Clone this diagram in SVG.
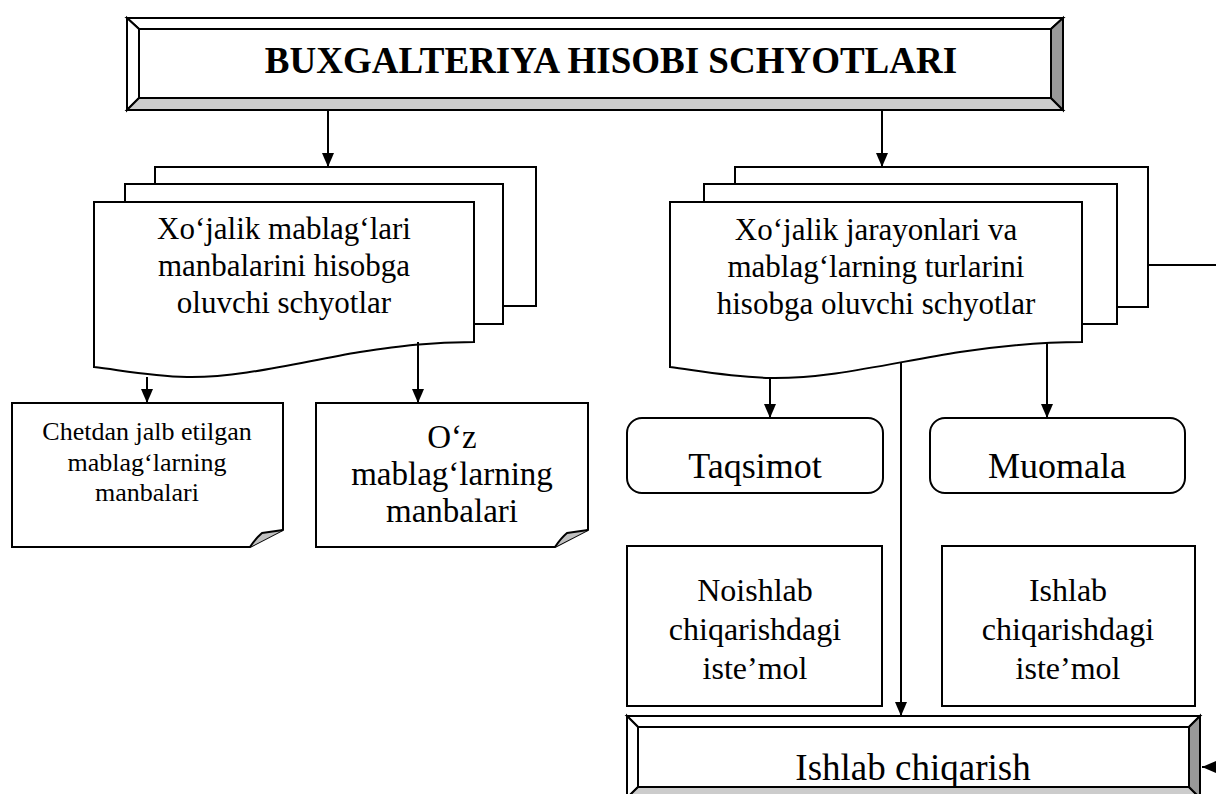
<svg xmlns="http://www.w3.org/2000/svg" width="1216" height="794" viewBox="0 0 1216 794">
<style>
  .ln{fill:none;stroke:#000;stroke-width:2}
  .box{fill:#fff;stroke:#000;stroke-width:2}
  .bv{stroke:#000;stroke-width:2;stroke-linejoin:miter}
  .t{font-family:"Liberation Serif","Times New Roman",serif;fill:#000;text-anchor:middle}
  .fold{fill:#c0c0c0;stroke:#000;stroke-width:2;stroke-linejoin:round}
</style>
<defs>
  <marker id="ahb" viewBox="0 0 14 12" refX="14" refY="6" markerWidth="14" markerHeight="12" markerUnits="userSpaceOnUse" orient="auto">
    <path d="M0,0 L14,6 L0,12 Z" fill="#000"/>
  </marker>
</defs>

<g id="title">
  <rect x="127" y="18" width="936" height="92" fill="#fff" stroke="#000" stroke-width="2"/>
  <polygon class="bv" points="127,18 1063,18 1051,29 139,29" fill="#fff"/>
  <polygon class="bv" points="127,18 139,29 139,98 127,110" fill="#fff"/>
  <polygon class="bv" points="127,110 139,98 1051,98 1063,110" fill="#cccccc"/>
  <polygon class="bv" points="1063,18 1051,29 1051,98 1063,110" fill="#999999"/>
  <text class="t" x="611" y="73" font-size="37" font-weight="bold">BUXGALTERIYA HISOBI SCHYOTLARI</text>
</g>

<g id="left-stack">
  <rect class="box" x="155" y="167" width="381" height="139"/>
  <rect class="box" x="125" y="184" width="378" height="140"/>
  <path class="box" d="M94,202 H474 V342 C430,342 400,346 360,352 C300,362 240,378 187,377 C150,376 120,370 94,367 Z"/>
  <text class="t" font-size="31"><tspan x="284" y="239">Xo‘jalik mablag‘lari</tspan><tspan x="284" y="276">manbalarini hisobga</tspan><tspan x="284" y="313">oluvchi schyotlar</tspan></text>
</g>

<g id="right-stack">
  <rect class="box" x="735" y="167" width="413" height="140"/>
  <rect class="box" x="704" y="184" width="413" height="140"/>
  <path class="box" d="M670,202 H1082 V342 C1035,342 1000,346 960,352 C895,362 830,379 770,378 C730,377 700,371 670,367 Z"/>
  <text class="t" font-size="31"><tspan x="876" y="240">Xo‘jalik jarayonlari va</tspan><tspan x="876" y="277">mablag‘larning turlarini</tspan><tspan x="876" y="314">hisobga oluvchi schyotlar</tspan></text>
</g>

<g id="note-chetdan">
  <path class="box" d="M12,403 H283 V530 L250,547 H12 Z"/>
  <path class="fold" d="M250,547 Q256,538 262,533 L283,530"/>
  <text class="t" font-size="26"><tspan x="147" y="440">Chetdan jalb etilgan</tspan><tspan x="147" y="471">mablag‘larning</tspan><tspan x="147" y="501">manbalari</tspan></text>
</g>

<g id="note-oz">
  <path class="box" d="M316,403 H588 V530 L555,547 H316 Z"/>
  <path class="fold" d="M555,547 Q561,538 567,533 L588,530"/>
  <text class="t" font-size="33"><tspan x="452" y="448">O‘z</tspan><tspan x="452" y="485">mablag‘larning</tspan><tspan x="452" y="522">manbalari</tspan></text>
</g>

<g id="taqsimot">
  <rect class="box" x="627" y="418" width="256" height="75" rx="15"/>
  <text class="t" x="755" y="478" font-size="36">Taqsimot</text>
</g>

<g id="muomala">
  <rect class="box" x="930" y="418" width="255" height="75" rx="15"/>
  <text class="t" x="1057" y="478" font-size="36">Muomala</text>
</g>

<g id="noishlab">
  <rect class="box" x="627" y="546" width="255" height="160"/>
  <text class="t" font-size="32"><tspan x="755" y="601">Noishlab</tspan><tspan x="755" y="640">chiqarishdagi</tspan><tspan x="755" y="679">iste’mol</tspan></text>
</g>

<g id="ishlab">
  <rect class="box" x="942" y="546" width="253" height="160"/>
  <text class="t" font-size="32"><tspan x="1068" y="601">Ishlab</tspan><tspan x="1068" y="640">chiqarishdagi</tspan><tspan x="1068" y="679">iste’mol</tspan></text>
</g>

<g id="ishlab-chiqarish">
  <rect x="627" y="716" width="573" height="82" fill="#fff" stroke="#000" stroke-width="2"/>
  <polygon class="bv" points="627,716 1200,716 1189,727 638,727" fill="#fff"/>
  <polygon class="bv" points="627,716 638,727 638,787 627,798" fill="#fff"/>
  <polygon class="bv" points="627,798 638,787 1189,787 1200,798" fill="#cccccc"/>
  <polygon class="bv" points="1200,716 1189,727 1189,787 1200,798" fill="#999999"/>
  <text class="t" x="913" y="780" font-size="37">Ishlab chiqarish</text>
</g>

<g id="connectors">
  <line class="ln" x1="328" y1="110" x2="328" y2="167" marker-end="url(#ahb)"/>
  <line class="ln" x1="882" y1="110" x2="882" y2="167" marker-end="url(#ahb)"/>
  <line class="ln" x1="147" y1="377" x2="147" y2="403" marker-end="url(#ahb)"/>
  <line class="ln" x1="418" y1="342" x2="418" y2="403" marker-end="url(#ahb)"/>
  <line class="ln" x1="770" y1="378" x2="770" y2="418" marker-end="url(#ahb)"/>
  <line class="ln" x1="1047" y1="342" x2="1047" y2="418" marker-end="url(#ahb)"/>
  <line class="ln" x1="901" y1="363" x2="901" y2="716" marker-end="url(#ahb)"/>
  <line class="ln" x1="1148" y1="265" x2="1216" y2="265"/>
  <line class="ln" x1="1218" y1="767" x2="1202" y2="767" marker-end="url(#ahb)"/>
</g>
</svg>
